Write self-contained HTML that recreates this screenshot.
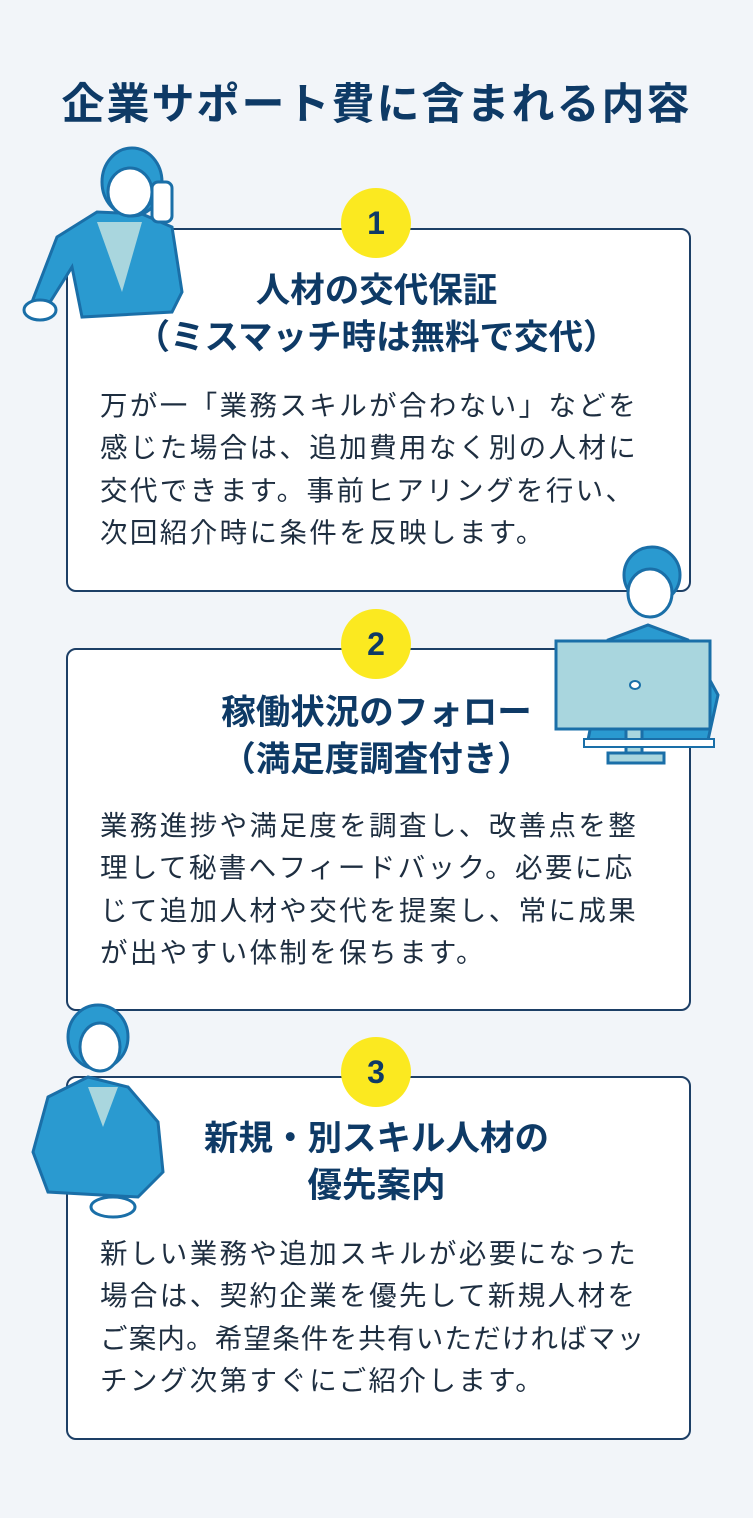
<!DOCTYPE html>
<html><head><meta charset="utf-8"><style>
body{margin:0;width:753px;height:1518px;background:#f2f5f9;position:relative;overflow:hidden;font-family:"Liberation Sans","Noto Sans CJK JP",sans-serif;color:#0e3a66}
.t{position:absolute;left:0;width:753px;text-align:center;top:70px;font-size:43px;font-weight:bold;letter-spacing:2px;white-space:nowrap}
.card{position:absolute;left:66px;width:621px;background:#fff;border:2px solid #1d3f66;border-radius:10px}
.c{position:absolute;left:341px;width:70px;height:70px;border-radius:50%;background:#fbe920;text-align:center;line-height:70px;font-size:32px;font-weight:bold;color:#0e3a66}
.h{position:absolute;left:40px;width:673px;text-align:center;font-size:34.5px;font-weight:bold;line-height:47px;white-space:nowrap}
.b{position:absolute;left:100px;width:600px;font-size:27.5px;line-height:42.3px;color:#1e2e40;letter-spacing:2.4px;white-space:nowrap}
svg{position:absolute}
</style></head><body>
<div class="t">企業サポート費に含まれる内容</div>

<div class="card" style="top:228px;height:360px"></div>
<div class="card" style="top:648px;height:359px"></div>
<div class="card" style="top:1076px;height:360px"></div>

<svg style="left:22px;top:142px" width="170" height="190" viewBox="0 0 170 190">
<path d="M35 95 L75 70 L120 72 L150 85 L160 150 L150 170 L60 175 L50 125 L25 165 L10 160 Z" fill="#2a9ad0" stroke="#1a6fa8" stroke-width="3"/>
<path d="M75 80 L120 80 L100 150 Z" fill="#a9d6de"/>
<ellipse cx="110" cy="40" rx="30" ry="34" fill="#2a9ad0" stroke="#1a6fa8" stroke-width="3"/>
<ellipse cx="108" cy="50" rx="22" ry="24" fill="#fff" stroke="#1a6fa8" stroke-width="3"/>
<rect x="130" y="40" width="20" height="40" rx="6" fill="#fff" stroke="#1a6fa8" stroke-width="3"/>
<ellipse cx="18" cy="168" rx="16" ry="10" fill="#fff" stroke="#1a6fa8" stroke-width="3"/>
</svg>

<svg style="left:548px;top:545px" width="190" height="225" viewBox="0 0 190 225">
<path d="M60 95 L100 80 L140 95 L170 150 L160 195 L40 195 Z" fill="#2a9ad0" stroke="#1a6fa8" stroke-width="3"/>
<ellipse cx="104" cy="30" rx="28" ry="28" fill="#2a9ad0" stroke="#1a6fa8" stroke-width="3"/>
<ellipse cx="102" cy="48" rx="22" ry="24" fill="#fff" stroke="#1a6fa8" stroke-width="3"/>
<rect x="8" y="96" width="154" height="88" fill="#a9d6de" stroke="#1a6fa8" stroke-width="3"/>
<ellipse cx="87" cy="140" rx="5" ry="4" fill="#fff" stroke="#1a6fa8" stroke-width="2"/>
<rect x="78" y="184" width="16" height="26" fill="#a9d6de" stroke="#1a6fa8" stroke-width="3"/>
<rect x="60" y="208" width="56" height="10" fill="#a9d6de" stroke="#1a6fa8" stroke-width="3"/>
<rect x="36" y="194" width="130" height="8" fill="#fff" stroke="#1a6fa8" stroke-width="2"/>
</svg>

<svg style="left:28px;top:1002px" width="145" height="225" viewBox="0 0 145 225">
<path d="M20 95 L60 75 L100 85 L130 120 L135 170 L110 195 L20 190 L5 150 Z" fill="#2a9ad0" stroke="#1a6fa8" stroke-width="3"/>
<path d="M60 85 L90 85 L75 125 Z" fill="#a9d6de"/>
<ellipse cx="70" cy="35" rx="30" ry="32" fill="#2a9ad0" stroke="#1a6fa8" stroke-width="3"/>
<ellipse cx="72" cy="45" rx="20" ry="24" fill="#fff" stroke="#1a6fa8" stroke-width="3"/>
<ellipse cx="85" cy="205" rx="22" ry="10" fill="#fff" stroke="#1a6fa8" stroke-width="3"/>
</svg>

<div class="c" style="top:188px">1</div>
<div class="c" style="top:609px">2</div>
<div class="c" style="top:1037px">3</div>

<div class="h" style="top:268px">人材の交代保証<br>（ミスマッチ時は無料で交代）</div>
<div class="b" style="top:385px">万が一「業務スキルが合わない」などを<br>感じた場合は、追加費用なく別の人材に<br>交代できます。事前ヒアリングを行い、<br>次回紹介時に条件を反映します。</div>

<div class="h" style="top:690px">稼働状況のフォロー<br>（満足度調査付き）</div>
<div class="b" style="top:805px">業務進捗や満足度を調査し、改善点を整<br>理して秘書へフィードバック。必要に応<br>じて追加人材や交代を提案し、常に成果<br>が出やすい体制を保ちます。</div>

<div class="h" style="top:1116px">新規・別スキル人材の<br>優先案内</div>
<div class="b" style="top:1233px">新しい業務や追加スキルが必要になった<br>場合は、契約企業を優先して新規人材を<br><span style="letter-spacing:1.2px">ご案内。希望条件を共有いただければマッ</span><br>チング次第すぐにご紹介します。</div>
</body></html>
